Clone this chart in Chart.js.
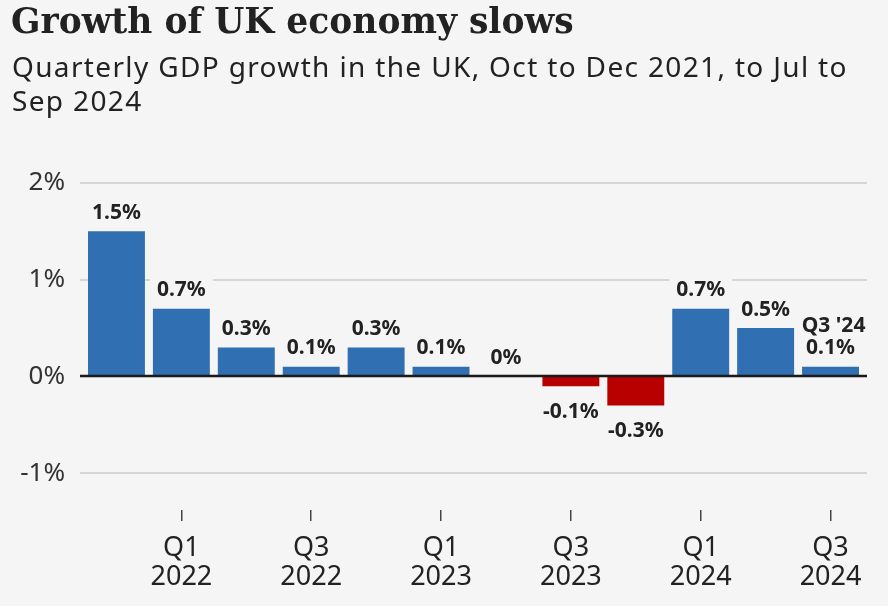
<!DOCTYPE html>
<html>
<head>
<meta charset="utf-8">
<script src="https://cdn.jsdelivr.net/npm/chart.js@4/dist/chart.umd.min.js"></script>
<style>
  html, body { margin: 0; padding: 0; background: #f5f5f5; }
  #wrap { position: relative; width: 888px; height: 606px; }
  #wrap canvas { position: absolute; left: 0; top: 0; }
  .title {
    position: absolute; left: 11px; top: 0; margin: 0;
    font: bold 34.5px/42px "DejaVu Serif", serif; color: #222;
    white-space: nowrap;
  }
  .subtitle {
    position: absolute; left: 12px; top: 49px; margin: 0;
    font: 28px/34.4px "Noto Sans", sans-serif; color: #222;
    letter-spacing: 1.35px; white-space: nowrap;
  }
</style>
</head>
<body>
<div id="wrap">
  <canvas id="gdpChart"></canvas>
  <h1 class="title">Growth of UK economy slows</h1>
  <p class="subtitle">Quarterly GDP growth in the UK, Oct to Dec 2021, to Jul to<br>Sep 2024</p>
</div>
<script>
const quarters = ["Q4", "Q1", "Q2", "Q3", "Q4", "Q1", "Q2", "Q3", "Q4", "Q1", "Q2", "Q3"];
const years = ["2021", "2022", "2022", "2022", "2022", "2023", "2023", "2023", "2023", "2024", "2024", "2024"];
const growth = [1.5, 0.7, 0.3, 0.1, 0.3, 0.1, 0, -0.1, -0.3, 0.7, 0.5, 0.1];
const yTicks = [-1, 0, 1, 2];
const latestLabel = "Q3 '24";

const BG = "#f5f5f5";
const BLUE = "#2f6fb2";
const RED = "#b80000";
const SANS = "'Noto Sans', sans-serif";


/* ======================================
   GRID, ZERO LINE AND BAR LABELS
====================================== */
const barDecor = {
  id: "barDecor",
  beforeDatasetsDraw(chart) {
    const { ctx, chartArea, scales: { y } } = chart;
    ctx.save();
    ctx.strokeStyle = "#d6d6d6";
    ctx.lineWidth = 2;
    yTicks.forEach(v => {
      if (v === 0) return;
      const py = Math.round(y.getPixelForValue(v));
      ctx.beginPath();
      ctx.moveTo(chartArea.left - 4, py);
      ctx.lineTo(chartArea.right + 4, py);
      ctx.stroke();
    });
    ctx.restore();
  },
  afterDatasetsDraw(chart) {
    const { ctx, chartArea, scales: { y } } = chart;
    const meta = chart.getDatasetMeta(0);

    ctx.save();
    // zero line
    const zy = Math.round(y.getPixelForValue(0));
    ctx.strokeStyle = "#1a1a1a";
    ctx.lineWidth = 2.5;
    ctx.beginPath();
    ctx.moveTo(chartArea.left - 4, zy);
    ctx.lineTo(chartArea.right + 4, zy);
    ctx.stroke();

    // labels
    ctx.font = "bold 21px " + SANS;
    ctx.textAlign = "center";
    ctx.textBaseline = "middle";
    meta.data.forEach((bar, i) => {
      const v = growth[i];
      const txt = v + "%";
      const cy = v >= 0 ? bar.y - 18.5 : bar.y + 26;
      const w = ctx.measureText(txt).width + 14;
      ctx.fillStyle = BG;
      ctx.fillRect(bar.x - w / 2, cy - 15, w, 30);
      ctx.fillStyle = "#222";
      ctx.fillText(txt, bar.x, cy);
      if (i === growth.length - 1) {
        ctx.fillText(latestLabel, bar.x + 3, cy - 22);
      }
    });
    ctx.restore();
  }
};


/* ======================================
   CHART
====================================== */
new Chart(document.getElementById("gdpChart"), {
  type: "bar",
  data: {
    labels: quarters.map((q, i) => q + " " + years[i]),
    datasets: [{
      data: growth,
      backgroundColor: ctx => (growth[ctx.dataIndex] < 0 ? RED : BLUE),
      borderWidth: 0,
      barPercentage: 0.877,
      categoryPercentage: 1
    }]
  },
  options: {
    responsive: true,
    maintainAspectRatio: false,
    animation: false,
    layout: { padding: { left: 11, right: 25, top: 183, bottom: 0 } },
    plugins: {
      legend: { display: false },
      tooltip: { enabled: false }
    },
    scales: {
      x: {
        grid: {
          display: true,
          drawOnChartArea: false,
          offset: false,
          tickLength: 11,
          lineWidth: 1.5,
          color: ctx => (ctx.index % 2 === 1 ? "#444" : "rgba(0,0,0,0)")
        },
        border: { display: false },
        ticks: {
          autoSkip: false,
          maxRotation: 0,
          padding: 12,
          color: "#222",
          font: { family: SANS, size: 27, lineHeight: 1.1 },
          callback: (val, i) => (i % 2 === 1 ? [quarters[i], years[i]] : "")
        },
        afterFit: s => { s.height = 96; }
      },
      y: {
        min: -1.38,
        max: 2,
        grid: { display: false, drawTicks: false },
        border: { display: false },
        afterBuildTicks: s => { s.ticks = yTicks.map(v => ({ value: v })); },
        ticks: {
          padding: 19,
          color: "#333",
          font: { family: SANS, size: 26 },
          callback: v => v + "%"
        },
        afterFit: s => { s.width = 73; }
      }
    }
  },
  plugins: [barDecor]
});
</script>
</body>
</html>
